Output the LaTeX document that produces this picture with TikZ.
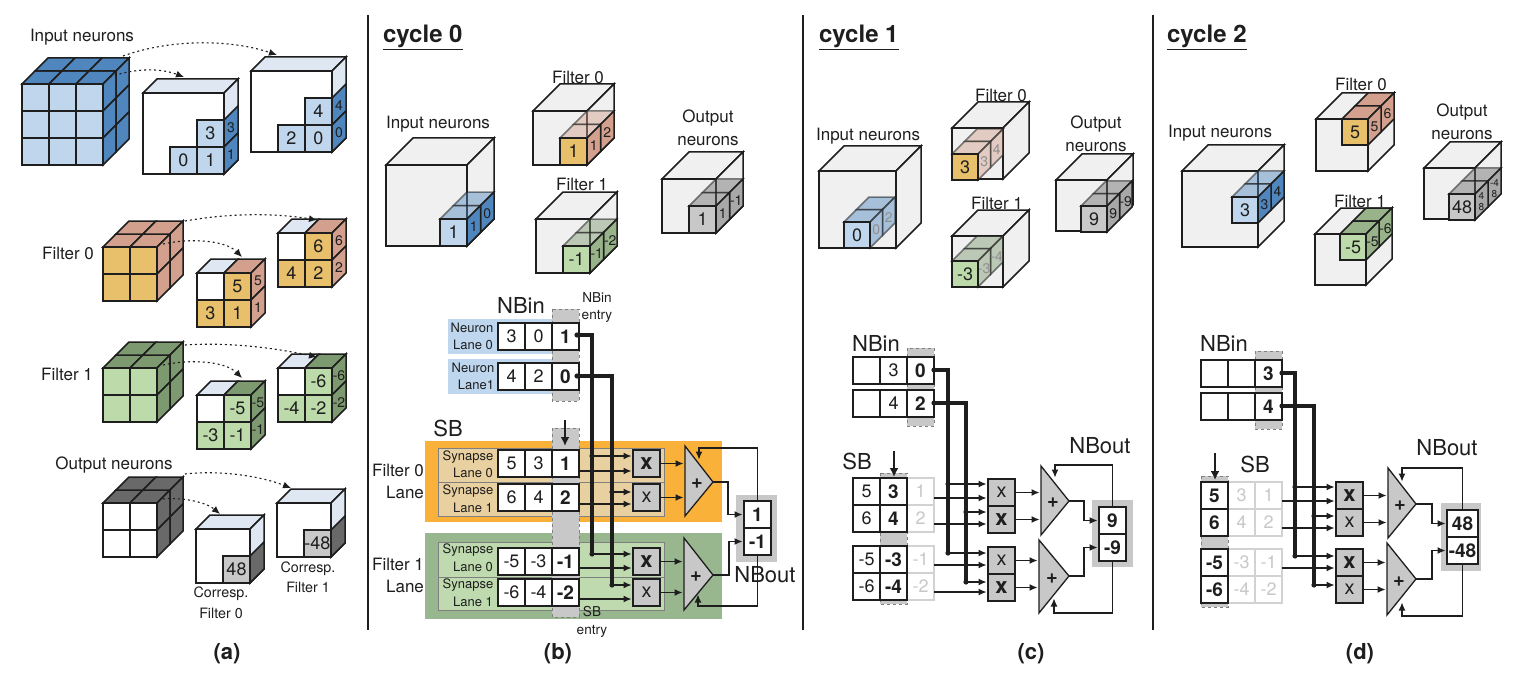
\documentclass[tikz,border=0pt]{standalone}
\usepackage{fontspec}
\setmainfont{TeX Gyre Heros}
\usetikzlibrary{arrows.meta}
\definecolor{ink}{HTML}{1E1E1E}
\definecolor{bluel}{HTML}{C0D6EC}
\definecolor{blued}{HTML}{4F86BD}
\definecolor{oranl}{HTML}{E8BF6B}
\definecolor{pinkd}{HTML}{D3A08E}
\definecolor{greel}{HTML}{BDDBAA}
\definecolor{greed}{HTML}{7D9970}
\definecolor{greem}{HTML}{98B38A}
\definecolor{grayd}{HTML}{696969}
\definecolor{graym}{HTML}{A8A8A8}
\definecolor{grayl}{HTML}{C8C8C8}
\definecolor{tlite}{HTML}{DFE8F2}
\definecolor{cubeg}{HTML}{F0F0F0}
\definecolor{bandb}{HTML}{BED6EE}
\definecolor{bando}{HTML}{F9B13A}
\definecolor{bandg}{HTML}{98B78F}
\definecolor{lanet}{HTML}{E9D0A0}
\definecolor{laneg}{HTML}{BEDAAE}
\definecolor{faded}{HTML}{D2D2D2}
\tikzset{
  lbl/.style={inner sep=0pt,outer sep=0pt,text=ink},
  cubeedge/.style={draw=ink,line width=1.5pt,line join=miter},
  fcell/.style={cubeedge,anchor=north west,inner sep=0pt,outer sep=0pt,text=ink,font=\fontsize{18}{18}\selectfont},
  op/.style={cubeedge,fill=#1},
  tr/.style={cubeedge,fill=#1,fill opacity=.45,draw opacity=.55},
  celn/.style={draw=ink,line width=1.5pt,fill=white,anchor=north west,inner sep=0pt,outer sep=0pt,minimum width=27pt,minimum height=27pt,text=ink,font=\fontsize{18}{18}\selectfont},
  celh/.style={celn,font=\fontsize{19}{19}\selectfont\bfseries},
  celf/.style={celn,draw=faded,text=grayl},
  xreg/.style={celn,fill=grayl,font=\fontsize{20}{20}\selectfont},
  xbld/.style={celn,fill=grayl,font=\fontsize{22}{22}\selectfont\bfseries},
  dashcol/.style={fill=grayl,draw=gray,dashed,line width=1pt},
  tribox/.style={draw=ink,line width=1.3pt,fill=grayl,line join=miter},
  bus/.style={draw=ink,line width=3.2pt},
  wire/.style={draw=ink,line width=1.2pt,-{Latex[length=8pt,width=7pt]},shorten >=1.5pt},
  downarr/.style={draw=ink,line width=2.5pt,-{Latex[length=9pt,width=9pt]}},
  dotarr/.style={draw=ink,line width=1.1pt,dash pattern=on 2pt off 3pt,-{Latex[length=8pt,width=7pt]}},
  seprule/.style={draw=ink,line width=1.2pt},
  lanebox/.style={draw=gray,line width=1pt},
}
\newcount\nodeno
\newcommand\lab[5][]{\global\advance\nodeno by 1\relax\node[lbl,font=\fontsize{#4}{#4}\selectfont,#1] (t\the\nodeno) at ({#2},{#3+1}) {#5};}
% faces
\newcommand\faceF[5]{\draw[cubeedge,fill=#5] ({#1},{#2}) rectangle ++(#3,#4);}
\newcommand\faceT[5][]{\draw[#1] ({#2},{#3}) -- ++(#4,0) -- ++(#5,-#5) -- ++(-#4,0) -- cycle;}
\newcommand\faceS[5][]{\draw[#1] ({#2},{#3}) -- ++(#5,-#5) -- ++(0,#4) -- ++(-#5,#5) -- cycle;}
\newcommand\fc[5]{\global\advance\nodeno by 1\relax\node[fcell,minimum size=#3pt,fill=#4] (f\the\nodeno) at ({#1},{#2}) {#5};}
\newcommand\sidc[6]{\faceS[op=#5]{#1}{#2}{#3}{#4}\lab{#1+#4/2}{#2-#4/2+#3/2}{14}{#6}}
\newcommand\gridfull[9]{% x y cols rows layers d front top side
  \foreach \j in {1,...,#5}{\foreach \i in {1,...,#3}{%
    \faceT[op=#8]{#1+(\i-1)*27+(\j-1)*#6}{#2-(\j-1)*#6}{27}{#6}}}%
  \foreach \j in {1,...,#5}{\foreach \k in {1,...,#4}{%
    \faceS[op=#9]{#1+#3*27+(\j-1)*#6}{#2-(\j-1)*#6+(\k-1)*27}{27}{#6}}}%
  \foreach \i in {1,...,#3}{\foreach \k in {1,...,#4}{%
    \fc{#1+(\i-1)*27}{#2+(\k-1)*27}{27}{#7}{}}}%
}
\newcommand\outercube[6]{% x y w d top side ; white front
  \faceT[op=#5]{#1}{#2}{#3}{#4}\faceS[op=#6]{#1+#3}{#2}{#3}{#4}\faceF{#1}{#2}{#3}{#3}{white}}
\newcommand\smallfour[9]{% x y front top side t1 t2 t3 s1 ; s2 in \sectxt
  \faceT[op=tlite]{#1}{#2}{27}{14}\faceT[op=#4]{#1+27}{#2}{27}{14}%
  \sidc{#1+54}{#2}{27}{14}{#5}{#9}\sidc{#1+54}{#2+27}{27}{14}{#5}{\sectxt}%
  \fc{#1}{#2}{27}{white}{}\fc{#1+27}{#2}{27}{#3}{#6}\fc{#1}{#2+27}{27}{#3}{#7}\fc{#1+27}{#2+27}{27}{#3}{#8}}
% cycle cube + stack
\newcommand\gcube[4]{\faceT[op=cubeg]{#1}{#2}{#3}{#4}\faceS[op=cubeg]{#1+#3}{#2}{#3}{#4}\faceF{#1}{#2}{#3}{#3}{cubeg}}
\newcommand\cstack[8]{% x y front topstyle sidestyle ft s1 s2 ; uses \cc \dd
  \faceT[#4]{#1+\dd}{#2-\dd}{\cc}{\dd}\faceT[#4]{#1}{#2}{\cc}{\dd}%
  \faceS[#5]{#1+\cc+\dd}{#2-\dd}{\cc}{\dd}\faceS[#5]{#1+\cc}{#2}{\cc}{\dd}%
  \lab{#1+\cc+\dd/2}{#2-\dd/2+\cc/2}{14}{#7}\lab{#1+\cc+\dd*1.5}{#2-\dd*1.5+\cc/2}{14}{#8}%
  \fc{#1}{#2}{\cc}{#3}{#6}}
% datapath
\newcommand\rowc[9]{% name x y sA tA sB tB sC tC
  \node[#8] (#1c) at ({#2+54},#3) {#9};\node[#6] (#1b) at ({#2+27},#3) {#7};\node[#4] (#1a) at (#2,#3) {#5};}
\newcommand\tria[6]{% prefix n x y1 y2 tip
  \coordinate (#1-t#2) at (#6);\draw[tribox] (#3,#4) -- (#3,#5) -- (#1-t#2) -- cycle;}
\newcommand\dpwires[1]{%
  \draw[bus] (#1-src1) -| (#1-d2);\draw[bus] (#1-src2) -| (#1-d4);
  \foreach \q in {src1,src2,d1,d2,d3,d4}{\fill[ink] (#1-\q) circle (2.6pt);}
  \foreach \wa/\wb in {d1/x1,s1/x1,d3/x2,s2/x2,d2/x3,s3/x3,d4/x4}{\draw[wire] (#1-\wa) -- (#1-\wa -| #1-\wb.west);}
  \foreach \wb/\wa in {x1/tin1,x2/tin1,x3/tin2,x4/tin2}{\draw[wire] (#1-\wb.east) -- (#1-\wb.east -| #1-\wa);}
  \draw[wire] (#1-t1) -- (#1-b1) |- (#1-o1.west);
  \draw[wire] (#1-t2) -- (#1-b2) |- (#1-o2.west);
  \draw[wire] (#1-o1.north) |- (#1-f1) -- (#1-g1);
  \draw[wire] (#1-o2.south) |- (#1-f2) -- (#1-g2);
}
\begin{document}
\begin{tikzpicture}[x=1pt,y=-1pt]
\useasboundingbox (0,0) rectangle (1532,690);
\fill[white] (0,0) rectangle (1532,690);
% separators
\draw[seprule] (368,15) -- (368,630);
\draw[seprule] (803,15) -- (803,630);
\draw[seprule] (1153,15) -- (1153,630);
% ===== (a) =====
\lab{82}{36}{17}{Input neurons}
\gridfull{22}{84}{3}{3}{2}{13}{bluel}{blued}{blued}
\outercube{143}{93}{81}{14}{tlite}{tlite}
\sidc{224}{120}{27}{14}{blued}{3}\sidc{224}{147}{27}{14}{blued}{1}
\fc{197}{120}{27}{bluel}{3}\fc{170}{147}{27}{bluel}{0}\fc{197}{147}{27}{bluel}{1}
\outercube{251}{71}{81}{14}{tlite}{tlite}
\sidc{332}{98}{27}{14}{blued}{4}\sidc{332}{125}{27}{14}{blued}{0}
\fc{305}{98}{27}{bluel}{4}\fc{278}{125}{27}{bluel}{2}\fc{305}{125}{27}{bluel}{0}
\draw[dotarr] (123,56) .. controls (170,39) and (230,39) .. (277,55);
\draw[dotarr] (110,77) .. controls (135,68) and (160,68) .. (184,77);
%
\lab{68}{252}{17}{Filter 0}
\gridfull{103}{247}{2}{2}{2}{13}{oranl}{pinkd}{pinkd}
\def\sectxt{1}\smallfour{197}{273}{oranl}{pinkd}{pinkd}{5}{3}{1}{5}
\def\sectxt{2}\smallfour{278}{233}{oranl}{pinkd}{pinkd}{6}{4}{2}{6}
\draw[dotarr] (185,221) .. controls (230,213) and (275,213) .. (317,220);
\draw[dotarr] (163,244) .. controls (190,238) and (225,240) .. (242,257);
%
\lab{67}{373}{17}{Filter 1}
\gridfull{103}{368}{2}{2}{2}{13}{greel}{greed}{greed}
\def\sectxt{-1}\smallfour{197}{395}{greel}{greed}{greed}{-5}{-3}{-1}{-5}
\def\sectxt{-2}\smallfour{278}{368}{greel}{greed}{greed}{-6}{-4}{-2}{-6}
\draw[dotarr] (185,345) .. controls (230,342) and (275,348) .. (317,357);
\draw[dotarr] (163,365) .. controls (190,359) and (225,361) .. (242,378);
%
\lab{114}{464}{17}{Output neurons}
\gridfull{103}{503}{2}{2}{2}{13}{white}{grayd}{grayd}
\outercube{196}{529}{54}{14}{tlite}{tlite}
\sidc{250}{556}{27}{14}{grayd}{}\fc{223}{556}{27}{grayl}{48}
\outercube{277}{503}{54}{14}{tlite}{tlite}
\sidc{331}{530}{27}{14}{grayd}{}\fc{304}{530}{27}{grayl}{-48}
\draw[dotarr] (185,474) .. controls (220,470) and (260,476) .. (291,488);
\draw[dotarr] (163,499) .. controls (185,497) and (207,503) .. (220,514);
\lab{221}{593}{14.3}{Corresp.}\lab{221}{612}{14.3}{Filter 0}
\lab{308}{568}{14.3}{Corresp.}\lab{308}{586}{14.3}{Filter 1}
\lab{227}{653}{22}{\bfseries (a)}
\lab{558}{653}{22}{\bfseries (b)}
\lab{1031}{653}{22}{\bfseries (c)}
\lab{1360}{653}{22}{\bfseries (d)}
% ===== cycle 0 =====
\lab[anchor=west]{383}{36}{24}{\bfseries\underline{cycle 0}}
\lab{438}{123}{17}{Input neurons}
\lab{578}{76}{17}{Filter 0}
\lab{582}{183}{17}{Filter 1}
\lab{708}{117}{17}{Output}\lab{708}{140}{17}{neurons}
\def\cc{27}\def\dd{13.5}
\gcube{386}{165}{81}{27}
\cstack{440}{219}{bluel}{tr=blued}{op=blued}{1}{1}{0}
\gcube{533}{111}{54}{27}
\cstack{560}{138}{oranl}{tr=pinkd}{op=pinkd}{1}{1}{2}
\gcube{536}{219}{54}{27}
\cstack{563}{246}{greel}{tr=greed}{op=greem}{-1}{-1}{-2}
\gcube{662}{179}{54}{27}
\cstack{689}{206}{grayl}{tr=grayd}{op=graym}{1}{1}{-1}
% ----- datapath b -----
\fill[bandb] (448,319) rectangle (555,354);
\fill[bandb] (448,359) rectangle (555,394);
\fill[bando] (425,441) rectangle (722,522);
\fill[bandg] (425,533) rectangle (722,619);
\draw[lanebox,fill=lanet] (438,448) rectangle (664,482);
\draw[lanebox,fill=lanet] (438,482) rectangle (664,516);
\draw[lanebox,fill=laneg] (438,542) rectangle (664,577);
\draw[lanebox,fill=laneg] (438,577) rectangle (664,610);
\draw[dashcol] (552,309) rectangle (579,401);
\draw[dashcol] (552,428) rectangle (579,617);
\lab{521}{304}{22}{NBin}
\lab{597}{297}{13.6}{NBin}\lab{597}{315}{13.6}{entry}
\lab{472}{327}{13}{Neuron}\lab{473}{344}{13}{Lane 0}
\lab{473}{367}{13}{Neuron}\lab{476}{384}{13}{Lane1}
\lab{448}{427}{22}{SB}
\lab{398}{469}{17}{Filter 0}\lab{405}{491}{17}{Lane}
\lab{398}{563}{17}{Filter 1}\lab{405}{585}{17}{Lane}
\foreach \yy/\tx in {456/Synapse,490/Synapse,549/Synapse,584/Synapse}{\lab{468}{\yy}{13}{\tx}}
\lab{473}{472}{13}{Lane 0}\lab{473}{507}{13}{Lane 1}
\lab{473}{566}{13}{Lane 0}\lab{473}{601}{13}{Lane 1}
\rowc{b-n}{498}{323}{celn}{3}{celn}{0}{celh}{1}
\rowc{b-m}{498}{363}{celn}{4}{celn}{2}{celh}{0}
\rowc{b-p}{498}{450}{celn}{5}{celn}{3}{celh}{1}
\rowc{b-q}{498}{484}{celn}{6}{celn}{4}{celh}{2}
\rowc{b-r}{498}{548}{celn}{-5}{celn}{-3}{celh}{-1}
\rowc{b-u}{498}{579}{celn}{-6}{celn}{-4}{celh}{-2}
\node[xbld] (b-x1) at (633,450) {x};
\node[xreg] (b-x2) at (633,484) {x};
\node[xbld] (b-x3) at (633,548) {x};
\node[xreg] (b-x4) at (633,579) {x};
\tria{b}{1}{685}{446}{516}{713,482}
\tria{b}{2}{684}{538}{610}{713,575}
\lab{697}{483}{20}{\bfseries +}\lab{696}{576}{20}{\bfseries +}
\fill[grayl] (736,495) rectangle (777,562);
\node[celh] (b-o1) at (744,501) {1};
\node[celh] (b-o2) at (744,528) {-1};
\coordinate (b-src1) at (577,335);\coordinate (b-src2) at (577,376);
\coordinate (b-d1) at (592,456);\coordinate (b-d2) at (592,554);
\coordinate (b-d3) at (612,492);\coordinate (b-d4) at (612,585);
\coordinate (b-s1) at (579,471);\coordinate (b-s2) at (579,504);
\coordinate (b-s3) at (579,568);\coordinate (b-s4) at (579,599);
\coordinate (b-tin1) at (685,0);\coordinate (b-tin2) at (684,0);
\coordinate (b-b1) at (728,482);\coordinate (b-b2) at (729,575);
\coordinate (b-f1) at (699,448);\coordinate (b-g1) at (699,461);
\coordinate (b-f2) at (698,606);\coordinate (b-g2) at (698,593);
\dpwires{b}
\draw[wire] (b-s4) -- (b-s4 -| b-x4.west);
\coordinate (b-a1) at (565,420);\coordinate (b-a2) at (565,446);
\draw[downarr] (b-a1) -- (b-a2);
\lab{765}{574}{22}{NBout}
\lab{592}{611}{13.6}{SB}\lab{592}{630}{13.6}{entry}
% ===== cycle 1 =====
\lab[anchor=west]{819}{36}{24}{\bfseries\underline{cycle 1}}
\lab{868}{135}{17}{Input neurons}
\lab{1001}{94}{17}{Filter 0}
\lab{997}{202}{17}{Filter 1}
\lab{1096}{123}{17}{Output}\lab{1096}{146}{17}{neurons}
\def\cc{26}\def\dd{12.5}
\gcube{819}{171}{77}{25}
\cstack{844}{222}{bluel}{tr=blued}{tr=blued}{0}{\textcolor{ink!50}{0}}{\textcolor{ink!50}{2}}
\gcube{952}{128}{51}{26}
\cstack{952}{154}{oranl}{tr=pinkd}{tr=pinkd}{3}{\textcolor{ink!50}{3}}{\textcolor{ink!50}{4}}
\gcube{952}{236}{51}{26}
\cstack{952}{261}{greel}{tr=greed}{tr=greed}{-3}{\textcolor{ink!50}{-3}}{\textcolor{ink!50}{-4}}
\gcube{1056}{180}{51}{26}
\cstack{1081}{206}{grayl}{tr=grayd}{op=graym}{9}{9}{-9}
% ----- datapath c -----
\draw[dashcol] (907,348) rectangle (934,426);
\draw[dashcol] (880,473) rectangle (907,604);
\lab{876}{342}{22}{NBin}
\lab{857}{460}{22}{SB}
\lab{1100}{445}{22}{NBout}
\rowc{c-n}{853}{357}{celn}{}{celn}{3}{celh}{0}
\rowc{c-m}{853}{390}{celn}{}{celn}{4}{celh}{2}
\rowc{c-p}{853}{478}{celn}{5}{celh}{3}{celf}{1}
\rowc{c-q}{853}{505}{celn}{6}{celh}{4}{celf}{2}
\rowc{c-r}{853}{546}{celn}{-5}{celh}{-3}{celf}{-1}
\rowc{c-u}{853}{573}{celn}{-6}{celh}{-4}{celf}{-2}
\node[xreg] (c-x1) at (988,479) {x};
\node[xbld] (c-x2) at (988,506) {x};
\node[xreg] (c-x3) at (988,547) {x};
\node[xbld] (c-x4) at (988,574) {x};
\tria{c}{1}{1041}{466}{535}{1069,501}
\tria{c}{2}{1039}{540}{613}{1069,576}
\lab{1053}{502}{20}{\bfseries +}\lab{1052}{578}{20}{\bfseries +}
\fill[grayl] (1092,500) rectangle (1133,567);
\node[celh] (c-o1) at (1099,507) {9};
\node[celh] (c-o2) at (1099,534) {-9};
\coordinate (c-src1) at (934,370);\coordinate (c-src2) at (934,403);
\coordinate (c-d1) at (948,484);\coordinate (c-d2) at (948,553);
\coordinate (c-d3) at (966,512);\coordinate (c-d4) at (966,582);
\coordinate (c-s1) at (934,498);\coordinate (c-s2) at (934,524);
\coordinate (c-s3) at (934,565);\coordinate (c-s4) at (934,592);
\coordinate (c-tin1) at (1041,0);\coordinate (c-tin2) at (1039,0);
\coordinate (c-b1) at (1084,501);\coordinate (c-b2) at (1084,576);
\coordinate (c-f1) at (1055,465);\coordinate (c-g1) at (1055,479);
\coordinate (c-f2) at (1054,613);\coordinate (c-g2) at (1054,597);
\dpwires{c}
\draw[wire] (c-s4) -- (c-s4 -| c-x4.west);
\coordinate (c-a1) at (894,451);\coordinate (c-a2) at (894,477);
\draw[downarr] (c-a1) -- (c-a2);
% ===== cycle 2 =====
\lab[anchor=west]{1167}{36}{24}{\bfseries\underline{cycle 2}}
\lab{1220}{132}{17}{Input neurons}
\lab{1361}{83}{17}{Filter 0}
\lab{1360}{200}{17}{Filter 1}
\lab{1462}{111}{17}{Output}\lab{1462}{134}{17}{neurons}
\def\cc{26}\def\dd{13}
\gcube{1182}{171}{76}{26}
\cstack{1232}{197}{bluel}{tr=blued}{op=blued}{3}{3}{4}
\gcube{1316}{119}{52}{26}
\cstack{1342}{119}{oranl}{op=pinkd}{op=pinkd}{5}{5}{6}
\gcube{1315}{234}{51}{26}
\cstack{1340}{234}{greel}{op=greem}{op=greem}{-5}{-5}{-6}
\gcube{1424}{168}{51}{26}
\cstack{1449}{194}{grayl}{tr=grayd}{op=graym}{48}{\fontsize{10}{11}\selectfont\shortstack{4\\8}}{\fontsize{10}{11}\selectfont\shortstack{-4\\8}}
% ----- datapath d -----
\draw[dashcol] (1255,351) rectangle (1282,429);
\draw[dashcol] (1201,476) rectangle (1228,607);
\lab{1224}{342}{22}{NBin}
\lab{1255}{463}{22}{SB}
\lab{1447}{447}{22}{NBout}
\rowc{d-n}{1201}{360}{celn}{}{celn}{}{celh}{3}
\rowc{d-m}{1201}{393}{celn}{}{celn}{}{celh}{4}
\rowc{d-p}{1201}{482}{celh}{5}{celf}{3}{celf}{1}
\rowc{d-q}{1201}{509}{celh}{6}{celf}{4}{celf}{2}
\rowc{d-r}{1201}{549}{celh}{-5}{celf}{-3}{celf}{-1}
\rowc{d-u}{1201}{576}{celh}{-6}{celf}{-4}{celf}{-2}
\node[xbld] (d-x1) at (1336,482) {x};
\node[xreg] (d-x2) at (1336,509) {x};
\node[xbld] (d-x3) at (1336,549) {x};
\node[xreg] (d-x4) at (1336,576) {x};
\tria{d}{1}{1388}{468}{538}{1416,504}
\tria{d}{2}{1387}{543}{615}{1416,579}
\lab{1400}{505}{20}{\bfseries +}\lab{1399}{581}{20}{\bfseries +}
\fill[grayl] (1441,503) rectangle (1481,571);
\node[celh,minimum width=31pt] (d-o1) at (1447,510) {48};
\node[celh,minimum width=31pt] (d-o2) at (1447,537) {-48};
\coordinate (d-src1) at (1282,373);\coordinate (d-src2) at (1282,406);
\coordinate (d-d1) at (1295,487);\coordinate (d-d2) at (1295,556);
\coordinate (d-d3) at (1314,516);\coordinate (d-d4) at (1314,585);
\coordinate (d-s1) at (1282,501);\coordinate (d-s2) at (1282,528);
\coordinate (d-s3) at (1282,568);
\coordinate (d-tin1) at (1388,0);\coordinate (d-tin2) at (1387,0);
\coordinate (d-b1) at (1432,504);\coordinate (d-b2) at (1432,579);
\coordinate (d-f1) at (1402,468);\coordinate (d-g1) at (1402,483);
\coordinate (d-f2) at (1402,616);\coordinate (d-g2) at (1402,601);
\dpwires{d}
\coordinate (d-a1) at (1215,453);\coordinate (d-a2) at (1215,480);
\draw[downarr] (d-a1) -- (d-a2);
\end{tikzpicture}
\end{document}
